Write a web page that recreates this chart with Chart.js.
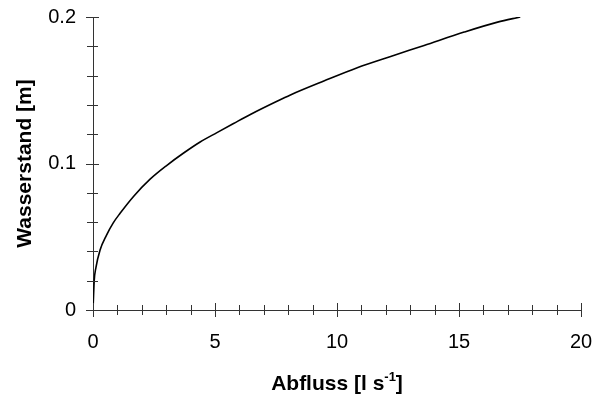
<!DOCTYPE html>
<html>
<head>
<meta charset="utf-8">
<script src="https://cdn.jsdelivr.net/npm/chart.js@4.4.1/dist/chart.umd.min.js"></script>
<style>
  html, body { margin: 0; padding: 0; background: #fff; }
  #wrap { width: 595px; height: 396px; }
</style>
</head>
<body>
<div id="wrap"><canvas id="pegel"></canvas></div>
<script>
// Abflusskurve: Abfluss Q [l/s] gegen Wasserstand h [m]
const abfluss = [0, 0.05, 0.12, 0.29, 0.55, 0.83, 1.11, 1.66, 2.34, 3.03, 3.70, 4.39, 5.08, 5.76, 6.45, 7.54, 8.09, 9.46, 10.83, 12.20, 13.57, 15.21, 16.58, 17.51];
const wasserstand = [0, 0.020, 0.029, 0.041, 0.051, 0.0595, 0.066, 0.0775, 0.0893, 0.0988, 0.1070, 0.1147, 0.1211, 0.1273, 0.1335, 0.1425, 0.1468, 0.1563, 0.1654, 0.1731, 0.1806, 0.1897, 0.1965, 0.2];
const xTicksMajor = [0, 5, 10, 15, 20];
const yTicksMajor = [0, 0.1, 0.2];

const punkte = abfluss.map((q, i) => ({ x: q, y: wasserstand[i] }));

const SCHRIFT = '"Liberation Sans", Arial, sans-serif';
Chart.defaults.font.family = SCHRIFT;
Chart.defaults.color = '#000';

// Striche quer ueber die Achsen
const kreuzStriche = {
  id: 'kreuzStriche',
  afterDraw(chart) {
    const { ctx, scales: { x, y } } = chart;
    const x0 = x.getPixelForValue(0);
    const y0 = y.getPixelForValue(0);
    ctx.save();
    ctx.strokeStyle = '#333';
    ctx.lineWidth = 1;
    ctx.beginPath();
    x.ticks.forEach(t => {
      const px = Math.round(x.getPixelForValue(t.value)) + 0.5;
      const len = xTicksMajor.includes(t.value) ? 7 : 5;
      ctx.moveTo(px, y0 - len);
      ctx.lineTo(px, y0 + len);
    });
    y.ticks.forEach(t => {
      const py = Math.round(y.getPixelForValue(t.value)) + 0.5;
      const major = yTicksMajor.some(v => Math.abs(v - t.value) < 1e-9);
      const len = major ? 6 : 5;
      ctx.moveTo(x0 - len - 1, py);
      ctx.lineTo(x0 + len, py);
    });
    ctx.stroke();
    ctx.restore();
  }
};

// x-Achsentitel mit hochgestellter Einheit
const abflussTitel = {
  id: 'abflussTitel',
  afterDraw(chart) {
    const { ctx, chartArea } = chart;
    const teile = [
      { text: 'Abfluss [l s', size: 21, dy: 0 },
      { text: '-1', size: 13, dy: -9 },
      { text: ']', size: 21, dy: 0 }
    ];
    ctx.save();
    ctx.fillStyle = '#000';
    ctx.textBaseline = 'alphabetic';
    let breite = 0;
    teile.forEach(p => {
      ctx.font = 'bold ' + p.size + 'px ' + SCHRIFT;
      p.w = ctx.measureText(p.text).width;
      breite += p.w;
    });
    let cx = (chartArea.left + chartArea.right) / 2 - breite / 2;
    const basis = chart.height - 6;
    teile.forEach(p => {
      ctx.font = 'bold ' + p.size + 'px ' + SCHRIFT;
      ctx.fillText(p.text, cx, basis + p.dy);
      cx += p.w;
    });
    ctx.restore();
  }
};

new Chart(document.getElementById('pegel'), {
  type: 'line',
  data: {
    datasets: [{
      data: punkte,
      borderColor: '#000',
      borderWidth: 1.6,
      pointRadius: 0,
      fill: false,
      cubicInterpolationMode: 'monotone'
    }]
  },
  options: {
    responsive: true,
    maintainAspectRatio: false,
    animation: false,
    layout: { padding: { top: 17, right: 14, left: 0, bottom: 0 } },
    plugins: { legend: { display: false }, tooltip: { enabled: false } },
    scales: {
      x: {
        type: 'linear',
        min: 0,
        max: 20,
        afterFit(s) {
          s.height = 86;
          s.paddingLeft = 0;
          s.paddingRight = 0;
        },
        border: { display: true, color: '#333', width: 1 },
        grid: { display: true, drawOnChartArea: false, drawTicks: true, tickLength: 7, color: 'rgba(0,0,0,0)' },
        ticks: {
          stepSize: 1,
          padding: 13,
          autoSkip: false,
          maxRotation: 0,
          font: { size: 20 },
          callback: v => xTicksMajor.includes(v) ? String(v) : ''
        },
        title: { display: false }
      },
      y: {
        min: 0,
        max: 0.2,
        afterFit(s) {
          s.width = 93;
          s.paddingTop = 0;
          s.paddingBottom = 0;
        },
        border: { display: true, color: '#333', width: 1 },
        grid: { display: true, drawOnChartArea: false, drawTicks: true, tickLength: 7, color: 'rgba(0,0,0,0)' },
        ticks: {
          stepSize: 0.02,
          padding: 10,
          autoSkip: false,
          font: { size: 20 },
          callback: v => {
            const m = yTicksMajor.find(t => Math.abs(t - v) < 1e-9);
            return m === undefined ? '' : String(m);
          }
        },
        title: {
          display: true,
          text: 'Wasserstand [m]',
          font: { size: 21, weight: 'bold' },
          padding: { top: 13, bottom: 0 }
        }
      }
    }
  },
  plugins: [kreuzStriche, abflussTitel]
});
</script>
</body>
</html>
